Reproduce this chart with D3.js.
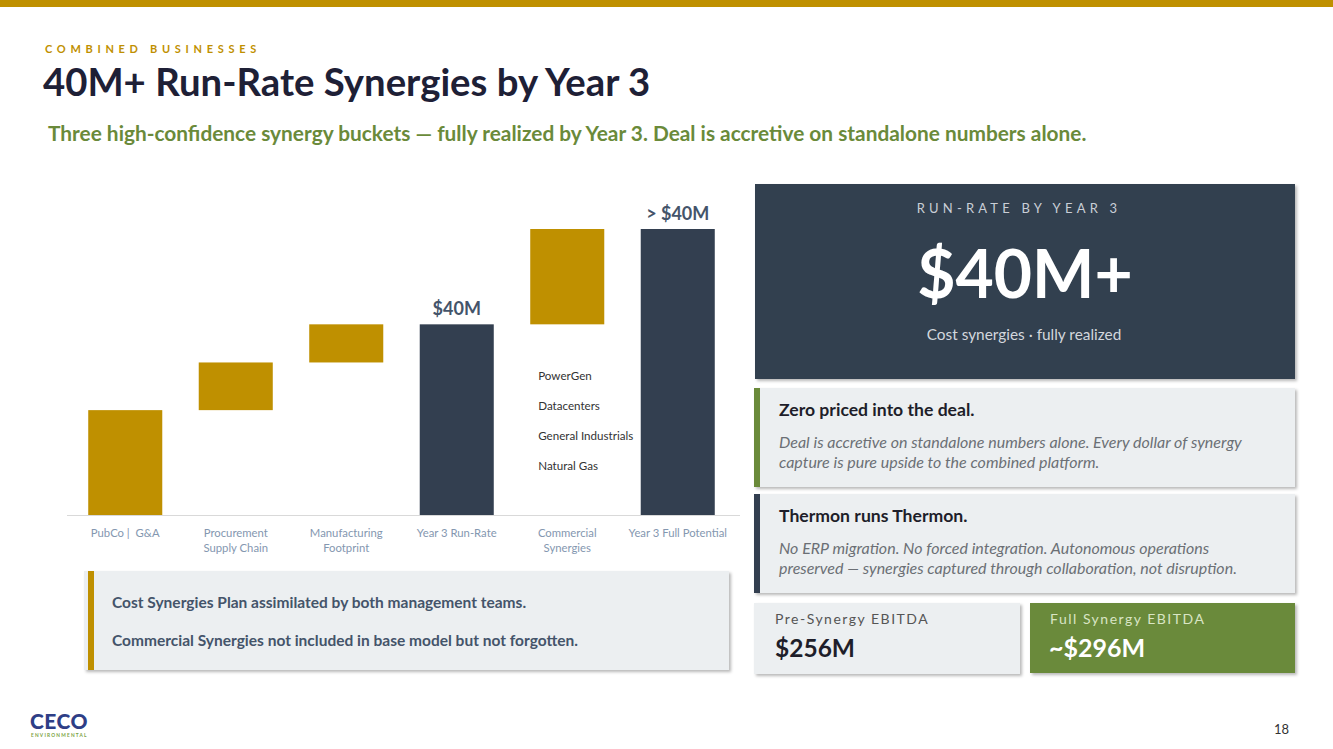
<!DOCTYPE html>
<html><head><meta charset="utf-8">
<script src="https://cdn.jsdelivr.net/npm/d3@7"></script>
<style>
html,body{margin:0;padding:0;background:#fff;}
svg{display:block;font-family:Lato,"Open Sans",sans-serif;}
text{white-space:pre;}
</style></head>
<body><svg id="c" width="1333" height="749"></svg>
<script>
// ---- data ----
const categories = ["PubCo |  G&A", "Procurement\nSupply Chain", "Manufacturing\nFootprint", "Year 3 Run-Rate", "Commercial\nSynergies", "Year 3 Full Potential"];
const values = [22, 10, 8, 40, 20, 60];           // $M
const barKinds = ["step", "step", "step", "total", "step", "total"];
const valueLabels = ["", "", "", "$40M", "", "> $40M"];
const commercialItems = ["PowerGen", "Datacenters", "General Industrials", "Natural Gas"];

const gold = "#BF9000", navy = "#333F50", green = "#6A8A3A", lightBg = "#ECEFF1";

const svg = d3.select("#c");
const defs = svg.append("defs");
const f = defs.append("filter").attr("id","sh").attr("x","-5%").attr("y","-10%").attr("width","110%").attr("height","130%");
f.append("feDropShadow").attr("dx",2).attr("dy",2).attr("stdDeviation",1.5).attr("flood-color","#000").attr("flood-opacity",0.28);

// top band
svg.append("rect").attr("x",0).attr("y",0).attr("width",1333).attr("height",7).attr("fill",gold);

svg.append("text").attr("x",45).attr("y",53).attr("fill",gold).attr("font-size",11).attr("font-weight",700)
  .attr("letter-spacing","4.7px").text("COMBINED BUSINESSES");
svg.append("text").attr("x",43).attr("y",96).attr("fill","#1E2036").attr("font-size",38.3).attr("font-weight",700)
  .text("40M+ Run-Rate Synergies by Year 3");
svg.append("text").attr("x",48).attr("y",141).attr("fill",green).attr("font-size",20.85).attr("font-weight",700)
  .text("Three high-confidence synergy buckets — fully realized by Year 3. Deal is accretive on standalone numbers alone.");

// ---- waterfall ----
const x = d3.scaleBand().domain(categories).range([70, 733]).paddingInner(0.33).paddingOuter(0.165);
const y = d3.scaleLinear().domain([0, 60]).range([515, 229]);

let run = 0;
const bars = categories.map((c,i) => {
  let y0, y1;
  if (barKinds[i] === "total") { y0 = 0; y1 = values[i]; run = values[i]; }
  else { y0 = run; y1 = run + values[i]; run = y1; }
  return {c, y0, y1, kind: barKinds[i], label: valueLabels[i]};
});

const g = svg.append("g");
g.append("line").attr("x1",67).attr("x2",740).attr("y1",y(0)+0.5).attr("y2",y(0)+0.5).attr("stroke","#D9D9D9").attr("stroke-width",1);

g.selectAll("rect.bar").data(bars).join("rect").attr("class","bar")
  .attr("x",d=>x(d.c)).attr("width",x.bandwidth())
  .attr("y",d=>y(d.y1)).attr("height",d=>y(d.y0)-y(d.y1))
  .attr("fill",d=>d.kind==="total"?navy:gold);

g.selectAll("text.vl").data(bars.filter(d=>d.label)).join("text").attr("class","vl")
  .attr("x",d=>x(d.c)+x.bandwidth()/2).attr("y",d=>y(d.y1)-9)
  .attr("text-anchor","middle").attr("font-size",18).attr("font-weight",700).attr("fill","#44546A")
  .text(d=>d.label);

const xAxis = g.append("g").attr("transform",`translate(0,${y(0)})`)
  .call(d3.axisBottom(x).tickSize(0).tickFormat(""));
xAxis.attr("font-family",null);
xAxis.select(".domain").remove();
xAxis.selectAll(".tick").each(function(d){
  const t = d3.select(this).append("text").attr("y",22).attr("text-anchor","middle")
    .attr("font-family","Lato, 'Open Sans', sans-serif")
    .attr("fill","#8497B0").attr("font-size",11.3);
  d.split("\n").forEach((ln,k)=>t.append("tspan").attr("x",0).attr("dy",k?15:0).text(ln));
});

const ci = categories.indexOf("Commercial\nSynergies");
g.selectAll("text.ci").data(commercialItems).join("text").attr("class","ci")
  .attr("x",x(categories[ci])+8).attr("y",(d,i)=>380+i*30)
  .attr("font-size",11.6).attr("fill","#333").text(d=>d);

// bottom-left note
svg.append("rect").attr("x",84).attr("y",571).attr("width",645).attr("height",99).attr("fill",lightBg).attr("filter","url(#sh)");
svg.append("rect").attr("x",88).attr("y",571).attr("width",6).attr("height",99).attr("fill",gold);
svg.append("text").attr("x",112).attr("y",608).attr("font-size",15.5).attr("font-weight",700).attr("fill","#44546A")
  .text("Cost Synergies Plan assimilated by both management teams.");
svg.append("text").attr("x",112).attr("y",646).attr("font-size",15.5).attr("font-weight",700).attr("fill","#44546A")
  .text("Commercial Synergies not included in base model but not forgotten.");

// ---- right panel ----
svg.append("rect").attr("x",755).attr("y",184).attr("width",540).attr("height",195).attr("fill",navy).attr("filter","url(#sh)");
svg.append("text").attr("x",1019).attr("y",213).attr("text-anchor","middle").attr("fill","#C9CED6").attr("font-size",13)
  .attr("letter-spacing","4.2px").text("RUN-RATE BY YEAR 3");
svg.append("text").attr("x",1025).attr("y",298).attr("text-anchor","middle").attr("fill","#fff").attr("font-size",66).attr("font-weight",700)
  .text("$40M+");
svg.append("text").attr("x",1024).attr("y",340).attr("text-anchor","middle").attr("fill","#D3D7DD").attr("font-size",15.4)
  .text("Cost synergies · fully realized");

function card(yTop, h, accent, title, lines){
  svg.append("rect").attr("x",754).attr("y",yTop).attr("width",541).attr("height",h).attr("fill",lightBg).attr("filter","url(#sh)");
  svg.append("rect").attr("x",754).attr("y",yTop).attr("width",6).attr("height",h).attr("fill",accent);
  svg.append("text").attr("x",779).attr("y",yTop+28).attr("font-size",17.6).attr("font-weight",700).attr("fill","#1E1E2A").text(title);
  lines.forEach((l,i)=>svg.append("text").attr("x",779).attr("y",yTop+60+i*20).attr("font-size",16).attr("font-style","italic")
    .attr("fill","#6B6F75").text(l));
}
card(388, 99, green, "Zero priced into the deal.",
  ["Deal is accretive on standalone numbers alone. Every dollar of synergy", "capture is pure upside to the combined platform."]);
card(494, 99, navy, "Thermon runs Thermon.",
  ["No ERP migration. No forced integration. Autonomous operations", "preserved — synergies captured through collaboration, not disruption."]);

svg.append("rect").attr("x",754).attr("y",603).attr("width",266).attr("height",71).attr("fill",lightBg).attr("filter","url(#sh)");
svg.append("text").attr("x",775).attr("y",624).attr("font-size",14).attr("letter-spacing","1.5px").attr("fill","#555").text("Pre-Synergy EBITDA");
svg.append("text").attr("x",775).attr("y",657).attr("font-size",24.5).attr("font-weight",700).attr("fill","#1E1E2A").text("$256M");

svg.append("rect").attr("x",1030).attr("y",603).attr("width",265).attr("height",70).attr("fill",green).attr("filter","url(#sh)");
svg.append("text").attr("x",1050).attr("y",624).attr("font-size",14).attr("letter-spacing","1.5px").attr("fill","#D9E5C4").text("Full Synergy EBITDA");
svg.append("text").attr("x",1049).attr("y",657).attr("font-size",25).attr("font-weight",700).attr("fill","#fff").text("~$296M");

// logo + page number
svg.append("text").attr("x",30).attr("y",729).attr("font-size",21).attr("font-weight",900).attr("fill","#2E3E86").attr("letter-spacing","0.5px").text("CECO");
svg.append("text").attr("x",31).attr("y",737).attr("font-size",4.8).attr("font-weight",700).attr("fill","#7BA23F").attr("letter-spacing","1.2px").text("ENVIRONMENTAL");
svg.append("text").attr("x",1289).attr("y",734).attr("text-anchor","end").attr("font-size",13).attr("fill","#333").text("18");
</script></body></html>
